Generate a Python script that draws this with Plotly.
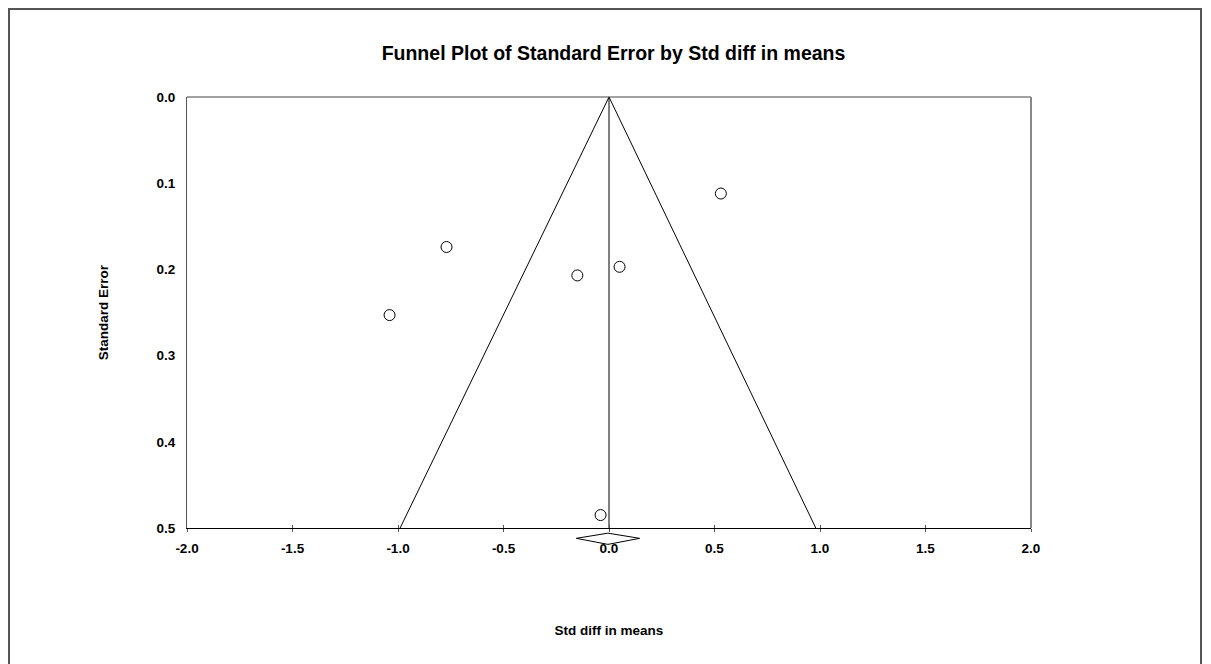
import plotly.graph_objects as go

# Study data (Std diff in means, Standard error)
study_effect = [0.53, -0.77, -1.04, -0.15, 0.05, -0.04]
study_se = [0.112, 0.174, 0.253, 0.207, 0.197, 0.485]

# Funnel (pseudo 95% limits)
funnel_x = [-0.99, 0.0, 0.98]
funnel_y = [0.5, 0.0, 0.5]

# Summary effect line
mean_x = [0.0, 0.0]
mean_y = [0.0, 0.5]

# Summary diamond (drawn just below the axis)
diamond_x = [-0.155, -0.005, 0.145, -0.005, -0.155]
diamond_y = [0.512, 0.506, 0.512, 0.519, 0.512]

x_ticks = [-2.0, -1.5, -1.0, -0.5, 0.0, 0.5, 1.0, 1.5, 2.0]
y_ticks = [0.0, 0.1, 0.2, 0.3, 0.4, 0.5]

FONT = "Liberation Sans, Arial, sans-serif"

# page geometry (browser body has an 8px margin)
OFF = 8
PLOT_L, PLOT_R, PLOT_T, PLOT_B = 187, 1031, 97, 528
PAPER_B = 550
W, H = 1211, 664
paper_w = PLOT_R - PLOT_L
paper_h = PAPER_B - PLOT_T
main_dom0 = (PAPER_B - PLOT_B) / paper_h
se_per_px = 0.5 / (PLOT_B - PLOT_T)

fig = go.Figure()
fig.add_trace(go.Scatter(x=funnel_x, y=funnel_y, mode="lines",
                         line=dict(color="black", width=1), hoverinfo="skip", showlegend=False))
fig.add_trace(go.Scatter(x=mean_x, y=mean_y, mode="lines",
                         line=dict(color="black", width=1), hoverinfo="skip", showlegend=False))
fig.add_trace(go.Scatter(x=study_effect, y=study_se, mode="markers",
                         marker=dict(symbol="circle-open", size=11, color="black",
                                     line=dict(color="black", width=1)),
                         showlegend=False))
# overlay axis to draw the inside half of the cross ticks
fig.add_trace(go.Scatter(x=[None], y=[None], xaxis="x2", showlegend=False, hoverinfo="skip"))
# diamond in a strip subplot just below the main axis
fig.add_trace(go.Scatter(x=diamond_x, y=diamond_y, mode="lines", xaxis="x3", yaxis="y3",
                         line=dict(color="black", width=1), hoverinfo="skip", showlegend=False))

fig.update_layout(
    width=W, height=H,
    margin=dict(l=PLOT_L - OFF, r=W - (PLOT_R - OFF), t=PLOT_T - OFF, b=H - (PAPER_B - OFF)),
    paper_bgcolor="white", plot_bgcolor="rgba(0,0,0,0)",
    font=dict(family=FONT, color="black"),
    title=dict(text="<b>Funnel Plot of Standard Error by Std diff in means</b>",
               x=0.5, xanchor="center", y=1 - (53 - OFF) / H, yanchor="middle",
               font=dict(size=19.5, family=FONT, color="black")),
    xaxis=dict(range=[-2.0, 2.0], tickvals=x_ticks, anchor="y",
               ticktext=[f"<b>{v:.1f}</b>" for v in x_ticks],
               tickfont=dict(size=13.5, family=FONT, color="black"),
               ticks="outside", ticklen=3, tickcolor="#555", tickwidth=1,
               ticklabelstandoff=5,
               showgrid=False, zeroline=False,
               showline=True, linecolor="black", linewidth=1, mirror=False,
               title=dict(text="<b>Std diff in means</b>", standoff=70,
                          font=dict(size=13.5, family=FONT, color="black")),
               ),
    xaxis2=dict(range=[-2.0, 2.0], tickvals=x_ticks, overlaying="x", side="bottom", anchor="y",
                ticks="inside", ticklen=3, tickcolor="#555", tickwidth=1,
                showticklabels=False, showgrid=False, zeroline=False, showline=False),
    yaxis=dict(range=[0.5, 0.0], tickvals=y_ticks, domain=[main_dom0, 1],
               ticktext=[f"<b>{v:.1f}</b>" for v in y_ticks],
               tickfont=dict(size=13.5, family=FONT, color="black"),
               ticks="", ticklabelstandoff=8,
               showgrid=False, zeroline=False,
               showline=True, linecolor="#555", linewidth=1,
               title=dict(text="<b>Standard Error</b>", standoff=44,
                          font=dict(size=13.5, family=FONT, color="black")),
               ),
    xaxis3=dict(range=[-2.0, 2.0], anchor="y3", domain=[0, 1], visible=False),
    yaxis3=dict(range=[0.5 + (PAPER_B - PLOT_B) * se_per_px, 0.5], anchor="x3",
                domain=[0, main_dom0], visible=False),
    shapes=[
        # top and right frame lines
        dict(type="line", xref="paper", yref="paper", x0=0, x1=1, y0=1, y1=1,
             line=dict(color="#444", width=1)),
        dict(type="line", xref="paper", yref="paper", x0=1, x1=1, y0=main_dom0, y1=1,
             line=dict(color="#888", width=2)),
        # outer border
        dict(type="rect", xref="paper", yref="paper",
             x0=(OFF + 1 - PLOT_L) / paper_w, x1=(1201 - PLOT_L) / paper_w,
             y0=(PAPER_B - 680) / paper_h, y1=(PAPER_B - (OFF + 1)) / paper_h,
             line=dict(color="#555", width=2), fillcolor="rgba(0,0,0,0)"),
    ],
)

fig.write_html("out.html")
